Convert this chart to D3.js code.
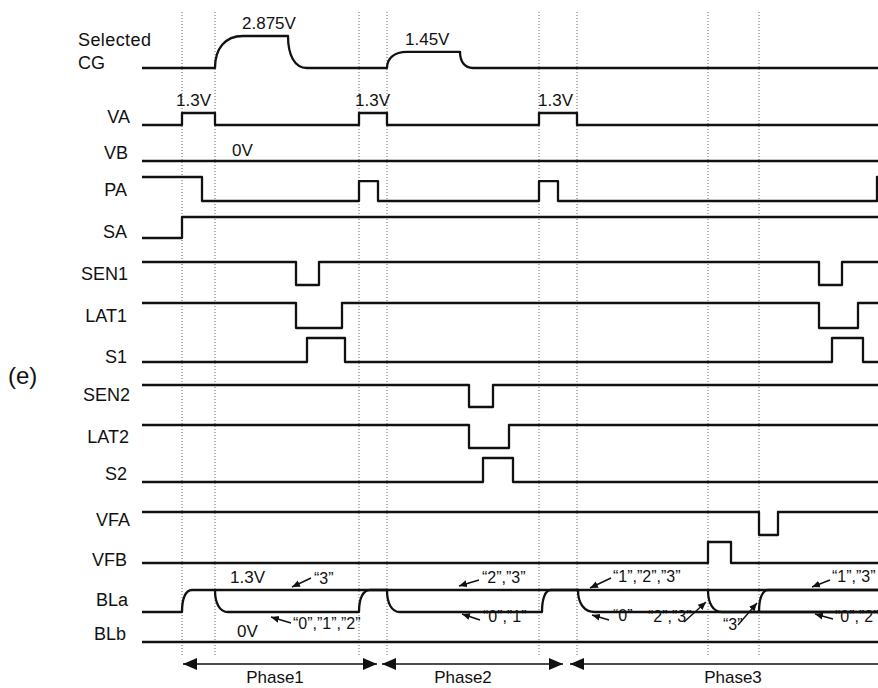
<!DOCTYPE html>
<html>
<head>
<meta charset="utf-8">
<script src="https://cdn.jsdelivr.net/npm/d3@7"></script>
<style>
body { margin: 0; background: #fff; }
text { font-family: "Liberation Sans", Arial, sans-serif; fill: #111; }
</style>
</head>
<body>
<svg id="timing"></svg>
<script>
// signal names, top to bottom
var signals = ["Selected CG", "VA", "VB", "PA", "SA", "SEN1", "LAT1", "S1", "SEN2", "LAT2", "S2", "VFA", "VFB", "BLa", "BLb"];

// waveforms: [time, level, riseTime] -> level holds from that time on (riseTime = RC edge)
var waveCG = [[0, 0], [73, 2.875, 28], [146, 0, 19], [245, 1.45, 20], [318, 0, 13]];
var waveVA = [[0, 0], [40, 1.3], [73, 0], [217, 1.3], [245, 0], [397, 1.3], [435, 0]];
var waveVB = [[0, 0]];
var wavePA = [[0, 1], [60, 0], [217, 0.83], [236, 0], [397, 0.83], [416, 0], [735, 1]];
var waveSA = [[0, 0], [40, 1]];
var waveSEN1 = [[0, 1], [154, 0], [177, 1], [677, 0], [700, 1]];
var waveLAT1 = [[0, 1], [154, 0], [200, 1], [677, 0], [716, 1]];
var waveS1 = [[0, 0], [165, 1], [203, 0], [690, 1], [721, 0]];
var waveSEN2 = [[0, 1], [327, 0], [351, 1]];
var waveLAT2 = [[0, 1], [327, 0], [367, 1]];
var waveS2 = [[0, 0], [341, 1], [371, 0]];
var waveVFA = [[0, 1], [617, 0], [636, 1]];
var waveVFB = [[0, 0], [566, 1], [589, 0]];
// BLa has several branches (cell states)
var waveBLaMain = [[0, 0], [40, 1.3, 10]];
var waveBLaLow = [[73, 1.3], [73, 0, 13], [217, 1.3, 11], [245, 0, 13], [400, 1.3, 9], [436, 0, 17]];
var waveBLaFall = [[566, 1.3], [566, 0, 14]];
var waveBLaRise = [[617, 0], [617, 1.3, 9]];
var waveBLb = [[0, 0]];

// dotted timing markers
var markers = [40, 73, 217, 245, 397, 435, 566, 617];

// phases
var phaseNames = ["Phase1", "Phase2", "Phase3"];
var phaseStart = [41, 240, 428];
var phaseEnd = [235, 421, 736];
var phaseLabelAt = [133, 321, 591];

// voltage labels
var voltText = ["2.875V", "1.45V", "1.3V", "1.3V", "1.3V", "0V", "1.3V", "0V"];
var voltTime = [100, 263, 34, 213, 396, 90, 88, 95];
var voltLane = ["Selected CG", "Selected CG", "VA", "VA", "VA", "VB", "BLa", "BLb"];
var voltLevel = [2.875, 1.45, 1.3, 1.3, 1.3, 0, 1.3, 0];

// state annotations on BLa
var stateText = ["\u201C3\u201D", "\u201C0\u201D,\u201D1\u201D,\u201D2\u201D", "\u201C2\u201D,\u201D3\u201D", "\u201C0\u201D,\u201D1\u201D",
   "\u201C1\u201D,\u201D2\u201D,\u201D3\u201D", "\u201C0\u201D", "\u201C2\u201D,\u201D3\u201D", "\u201C3\u201D", "\u201C1\u201D,\u201D3\u201D", "\u201C0\u201D,\u201D2\u201D"];

var width = 878, height = 688;
var svg = d3.select("svg#timing").attr("width", width).attr("height", height);

// time axis
var tEnd = 736;
var x = d3.scaleLinear().domain([0, tEnd]).range([142, 878]);

// lane layout: baseline (level 0) and top (full level)
var laneBase = [68, 125, 161, 201, 238, 285, 328, 362, 407, 448, 482, 535, 563, 612, 642];
var laneTop = [36, 113, 140, 177, 217, 262, 303, 338, 385, 425, 458, 512, 542, 590, 620];
var laneMax = [2.875, 1.3, 1, 1, 1, 1, 1, 1, 1, 1, 1, 1, 1, 1.3, 1];
var labelY = [69, 123, 159, 196, 238, 280, 322, 363, 401, 443, 480, 526, 566, 606, 640];
var labelRight = [0, 130, 128, 127, 127, 128, 127, 127, 130, 129, 127, 130, 127, 128, 126];

var laneScale = {};
signals.forEach(function (s, i) {
   laneScale[s] = d3.scaleLinear().domain([0, laneMax[i]]).range([laneBase[i], laneTop[i]]);
});

// dotted vertical markers
svg.append("g")
   .selectAll("line")
   .data(markers)
   .join("line")
   .attr("x1", function (d) { return x(d); })
   .attr("x2", function (d) { return x(d); })
   .attr("y1", 12)
   .attr("y2", 655)
   .attr("stroke", "#666")
   .attr("stroke-width", 1)
   .attr("stroke-dasharray", "1,2");

// build a waveform path
function wavePath(wave, y) {
   var p = d3.path();
   p.moveTo(x(wave[0][0]), y(wave[0][1]));
   for (var i = 1; i < wave.length; i++) {
      var t = wave[i][0], prev = wave[i - 1][1], lv = wave[i][1], dur = wave[i][2] || 0;
      p.lineTo(x(t), y(prev));
      if (dur) {
         var y0 = y(prev), y1 = y(lv);
         p.bezierCurveTo(x(t), y0 + (y1 - y0) * 0.6, x(t) + (x(t + dur) - x(t)) * 0.35, y1, x(t + dur), y1);
      } else {
         p.lineTo(x(t), y(lv));
      }
   }
   p.lineTo(x(tEnd), y(wave[wave.length - 1][1]));
   return p.toString();
}

var waves = [
   ["Selected CG", waveCG], ["VA", waveVA], ["VB", waveVB], ["PA", wavePA], ["SA", waveSA],
   ["SEN1", waveSEN1], ["LAT1", waveLAT1], ["S1", waveS1], ["SEN2", waveSEN2], ["LAT2", waveLAT2],
   ["S2", waveS2], ["VFA", waveVFA], ["VFB", waveVFB],
   ["BLa", waveBLaMain], ["BLa", waveBLaLow], ["BLa", waveBLaFall], ["BLa", waveBLaRise], ["BLb", waveBLb]
];

svg.append("g")
   .selectAll("path")
   .data(waves)
   .join("path")
   .attr("d", function (d) { return wavePath(d[1], laneScale[d[0]]); })
   .attr("fill", "none")
   .attr("stroke", "#111")
   .attr("stroke-width", 2.3)
   .attr("stroke-linejoin", "round");

// signal labels
var labels = svg.append("g").attr("font-size", 18);
labels.append("text").attr("x", 78).attr("y", 46).attr("textLength", 73).text("Selected");
labels.append("text").attr("x", 78).attr("y", 69).text("CG");
labels.selectAll("text.sig")
   .data(signals.slice(1))
   .join("text")
   .attr("class", "sig")
   .attr("text-anchor", "end")
   .attr("x", function (d, i) { return labelRight[i + 1]; })
   .attr("y", function (d, i) { return labelY[i + 1]; })
   .text(function (d) { return d; });

svg.append("text").attr("x", 8).attr("y", 384).attr("font-size", 24).text("(e)");

// voltage labels
svg.append("g")
   .attr("font-size", 17)
   .selectAll("text")
   .data(voltText)
   .join("text")
   .attr("x", function (d, i) { return x(voltTime[i]); })
   .attr("y", function (d, i) { return laneScale[voltLane[i]](voltLevel[i]) - (voltLevel[i] ? 7 : 5); })
   .text(function (d) { return d; });

// arrow heads
var defs = svg.append("defs");
defs.append("marker")
   .attr("id", "small")
   .attr("markerUnits", "userSpaceOnUse")
   .attr("viewBox", "-8 -4 8 8")
   .attr("markerWidth", 8).attr("markerHeight", 8)
   .attr("refX", 0).attr("refY", 0)
   .attr("orient", "auto")
   .append("path").attr("d", "M0,0L-8,-3.5L-8,3.5Z").attr("fill", "#111");
defs.append("marker")
   .attr("id", "big")
   .attr("markerUnits", "userSpaceOnUse")
   .attr("viewBox", "-14 -6 14 12")
   .attr("markerWidth", 14).attr("markerHeight", 12)
   .attr("refX", 0).attr("refY", 0)
   .attr("orient", "auto-start-reverse")
   .append("path").attr("d", "M0,0L-14,-6L-14,6Z").attr("fill", "#111");

// state annotations: text position and arrow (text end -> curve)
var stateX = [314, 293, 482, 483, 613, 613, 648, 723, 832, 835];
var stateY = [584, 629, 583, 622, 582, 621, 622, 630, 582, 622];
var arrowFrom = [[311, 578], [291, 623], [479, 580], [480, 620], [611, 578], [609, 620], [684, 622], [738, 625], [830, 580], [833, 619]];
var arrowTo = [[292, 587], [271, 617], [459, 586], [462, 614], [590, 588], [592, 615], [706, 602], [757, 603], [812, 587], [815, 614]];

var notes = svg.append("g").attr("font-size", 16);
notes.selectAll("text")
   .data(stateText)
   .join("text")
   .attr("x", function (d, i) { return stateX[i]; })
   .attr("y", function (d, i) { return stateY[i]; })
   .text(function (d) { return d; });
notes.selectAll("line")
   .data(arrowFrom)
   .join("line")
   .attr("x1", function (d) { return d[0]; })
   .attr("y1", function (d) { return d[1]; })
   .attr("x2", function (d, i) { return arrowTo[i][0]; })
   .attr("y2", function (d, i) { return arrowTo[i][1]; })
   .attr("stroke", "#111")
   .attr("stroke-width", 1.4)
   .attr("marker-end", "url(#small)");

// phase arrows
var phases = svg.append("g");
phases.selectAll("line")
   .data(phaseNames)
   .join("line")
   .attr("x1", function (d, i) { return x(phaseStart[i]); })
   .attr("x2", function (d, i) { return x(phaseEnd[i]); })
   .attr("y1", 664)
   .attr("y2", 664)
   .attr("stroke", "#111")
   .attr("stroke-width", 1.6)
   .attr("marker-start", "url(#big)")
   .attr("marker-end", function (d, i) { return i < 2 ? "url(#big)" : null; });
phases.selectAll("text")
   .data(phaseNames)
   .join("text")
   .attr("x", function (d, i) { return x(phaseLabelAt[i]); })
   .attr("y", 683)
   .attr("text-anchor", "middle")
   .attr("font-size", 17)
   .text(function (d) { return d; });
</script>
</body>
</html>
